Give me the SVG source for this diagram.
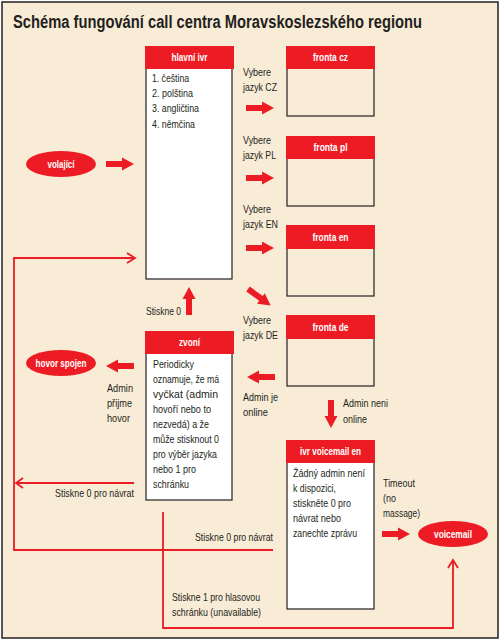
<svg xmlns="http://www.w3.org/2000/svg" width="501" height="641" viewBox="0 0 501 641">
<style>
.t{font-family:"Liberation Sans",Arial,sans-serif;font-size:11px;fill:#231F20}
.h{font-family:"Liberation Sans",Arial,sans-serif;font-size:11px;font-weight:bold;fill:#fff;text-anchor:middle}
.hdr{fill:#ED1C24}
.bw{fill:#fff;stroke:#231F20;stroke-width:1.2}
.bb{fill:none;stroke:#231F20;stroke-width:1.2}
.ln{fill:none;stroke:#ED1C24;stroke-width:1.8}
.ba{fill:#ED1C24}
</style>
<defs>
<path id="arr" d="M0,-3 H16 V-6.5 L28,0 L16,6.5 V3 H0 Z"/>
</defs>
<rect x="2" y="2" width="496" height="636" fill="#F9ECD7" stroke="#231F20" stroke-width="1.5"/>
<text x="13" y="28" font-family="Liberation Sans,Arial,sans-serif" font-size="17.5" font-weight="bold" fill="#231F20" textLength="409" lengthAdjust="spacingAndGlyphs">Schéma fungování call centra Moravskoslezského regionu</text>

<g id="hlavni-ivr">
<rect class="bw" x="146" y="68" width="86" height="211"/>
<rect class="hdr" x="145" y="46" width="89" height="23"/>
<text class="h" x="189.5" y="61" textLength="36" lengthAdjust="spacingAndGlyphs">hlavní ivr</text>
<text class="t" x="152" y="82" textLength="37" lengthAdjust="spacingAndGlyphs">1. čeština</text>
<text class="t" x="152" y="97" textLength="41" lengthAdjust="spacingAndGlyphs">2. polština</text>
<text class="t" x="152" y="112" textLength="47" lengthAdjust="spacingAndGlyphs">3. angličtina</text>
<text class="t" x="152" y="128" textLength="43" lengthAdjust="spacingAndGlyphs">4. němčina</text>
</g>

<g id="fronta-cz">
<rect class="bb" x="287" y="68" width="87" height="48"/>
<rect class="hdr" x="286" y="46" width="89" height="23"/>
<text class="h" x="330.5" y="61" textLength="35" lengthAdjust="spacingAndGlyphs">fronta cz</text>
</g>
<g id="fronta-pl">
<rect class="bb" x="287" y="158" width="87" height="48"/>
<rect class="hdr" x="286" y="136" width="89" height="23"/>
<text class="h" x="330.5" y="151" textLength="34" lengthAdjust="spacingAndGlyphs">fronta pl</text>
</g>
<g id="fronta-en">
<rect class="bb" x="287" y="248" width="87" height="48"/>
<rect class="hdr" x="286" y="225" width="89" height="24"/>
<text class="h" x="330.5" y="241" textLength="36" lengthAdjust="spacingAndGlyphs">fronta en</text>
</g>
<g id="fronta-de">
<rect class="bb" x="287" y="338" width="87" height="48"/>
<rect class="hdr" x="286" y="315" width="89" height="24"/>
<text class="h" x="330.5" y="331" textLength="36" lengthAdjust="spacingAndGlyphs">fronta de</text>
</g>

<g id="volajici">
<ellipse class="hdr" cx="61" cy="164" rx="35" ry="13"/>
<text class="h" x="61" y="168" textLength="27" lengthAdjust="spacingAndGlyphs">volající</text>
</g>

<g id="zvoni">
<rect class="bw" x="146" y="353" width="86" height="147"/>
<rect class="hdr" x="145" y="331" width="89" height="23"/>
<text class="h" x="189.5" y="346" textLength="21" lengthAdjust="spacingAndGlyphs">zvoní</text>
<text class="t" x="153" y="368" textLength="41" lengthAdjust="spacingAndGlyphs">Periodicky</text>
<text class="t" x="153" y="383" textLength="66" lengthAdjust="spacingAndGlyphs">oznamuje, že má</text>
<text class="t" x="153" y="398" textLength="65" lengthAdjust="spacingAndGlyphs">vyčkat (admin</text>
<text class="t" x="153" y="413" textLength="58" lengthAdjust="spacingAndGlyphs">hovoří nebo to</text>
<text class="t" x="153" y="428" textLength="56" lengthAdjust="spacingAndGlyphs">nezvedá) a že</text>
<text class="t" x="153" y="443" textLength="66" lengthAdjust="spacingAndGlyphs">může stisknout 0</text>
<text class="t" x="153" y="458" textLength="64" lengthAdjust="spacingAndGlyphs">pro výběr jazyka</text>
<text class="t" x="153" y="473" textLength="43" lengthAdjust="spacingAndGlyphs">nebo 1 pro</text>
<text class="t" x="153" y="488" textLength="36" lengthAdjust="spacingAndGlyphs">schránku</text>
</g>

<g id="hovor-spojen">
<ellipse class="hdr" cx="61" cy="363" rx="35" ry="13"/>
<text class="h" x="61" y="367" textLength="51" lengthAdjust="spacingAndGlyphs">hovor spojen</text>
</g>

<g id="ivr-voicemail-en">
<rect class="bw" x="287" y="462" width="87" height="147"/>
<rect class="hdr" x="286" y="440" width="89" height="23"/>
<text class="h" x="330.5" y="455" textLength="61" lengthAdjust="spacingAndGlyphs">ivr voicemail en</text>
<text class="t" x="293" y="477" textLength="72" lengthAdjust="spacingAndGlyphs">Žádný admin není</text>
<text class="t" x="293" y="492" textLength="43" lengthAdjust="spacingAndGlyphs">k dispozici,</text>
<text class="t" x="293" y="507" textLength="58" lengthAdjust="spacingAndGlyphs">stiskněte 0 pro</text>
<text class="t" x="293" y="522" textLength="48" lengthAdjust="spacingAndGlyphs">návrat nebo</text>
<text class="t" x="293" y="537" textLength="64" lengthAdjust="spacingAndGlyphs">zanechte zprávu</text>
</g>

<g id="voicemail">
<ellipse class="hdr" cx="453" cy="534" rx="35" ry="13"/>
<text class="h" x="453" y="538" textLength="38" lengthAdjust="spacingAndGlyphs">voicemail</text>
</g>

<g id="connectors">
<use href="#arr" class="ba" transform="translate(106,164)"/>
<use href="#arr" class="ba" transform="translate(246,108)"/>
<use href="#arr" class="ba" transform="translate(246,178)"/>
<use href="#arr" class="ba" transform="translate(246,248)"/>
<use href="#arr" class="ba" transform="translate(248,289) rotate(36)"/>
<use href="#arr" class="ba" transform="translate(189,315) rotate(-90)"/>
<use href="#arr" class="ba" transform="translate(134,366) rotate(180)"/>
<use href="#arr" class="ba" transform="translate(275,377) rotate(180)"/>
<use href="#arr" class="ba" transform="translate(331,400) rotate(90)"/>
<use href="#arr" class="ba" transform="translate(382,534)"/>

<polyline class="ln" points="14,483 14,550 273,550"/>
<polyline class="ln" points="14,483 14,258 134,258"/>
<polyline class="ln" points="127,253 135,258 127,263"/>
<line class="ln" x1="134" y1="483" x2="16" y2="483"/>
<polyline class="ln" points="23,478 16,483 23,488"/>
<polyline class="ln" points="163,512 163,628 453,628 453,561"/>
<polyline class="ln" points="448,568 453,560 458,568"/>

<text class="t" x="146" y="315" textLength="35" lengthAdjust="spacingAndGlyphs">Stiskne 0</text>
<text class="t" x="243" y="76" textLength="28" lengthAdjust="spacingAndGlyphs">Vybere</text>
<text class="t" x="243" y="91" textLength="34" lengthAdjust="spacingAndGlyphs">jazyk CZ</text>
<text class="t" x="243" y="144" textLength="28" lengthAdjust="spacingAndGlyphs">Vybere</text>
<text class="t" x="243" y="159" textLength="33" lengthAdjust="spacingAndGlyphs">jazyk PL</text>
<text class="t" x="243" y="213" textLength="28" lengthAdjust="spacingAndGlyphs">Vybere</text>
<text class="t" x="243" y="228" textLength="35" lengthAdjust="spacingAndGlyphs">jazyk EN</text>
<text class="t" x="243" y="324" textLength="28" lengthAdjust="spacingAndGlyphs">Vybere</text>
<text class="t" x="243" y="339" textLength="35" lengthAdjust="spacingAndGlyphs">jazyk DE</text>
<text class="t" x="107" y="392" textLength="26" lengthAdjust="spacingAndGlyphs">Admin</text>
<text class="t" x="107" y="407" textLength="25" lengthAdjust="spacingAndGlyphs">přijme</text>
<text class="t" x="107" y="422" textLength="23" lengthAdjust="spacingAndGlyphs">hovor</text>
<text class="t" x="243" y="401" textLength="35" lengthAdjust="spacingAndGlyphs">Admin je</text>
<text class="t" x="243" y="416" textLength="25" lengthAdjust="spacingAndGlyphs">online</text>
<text class="t" x="343" y="407" textLength="45" lengthAdjust="spacingAndGlyphs">Admin neni</text>
<text class="t" x="343" y="423" textLength="24" lengthAdjust="spacingAndGlyphs">online</text>
<text class="t" x="55" y="497" textLength="79" lengthAdjust="spacingAndGlyphs">Stiskne 0 pro návrat</text>
<text class="t" x="195" y="541" textLength="78" lengthAdjust="spacingAndGlyphs">Stiskne 0 pro návrat</text>
<text class="t" x="383" y="487" textLength="32" lengthAdjust="spacingAndGlyphs">Timeout</text>
<text class="t" x="383" y="502" textLength="13" lengthAdjust="spacingAndGlyphs">(no</text>
<text class="t" x="383" y="517" textLength="37" lengthAdjust="spacingAndGlyphs">massage)</text>
<text class="t" x="172" y="601" textLength="88" lengthAdjust="spacingAndGlyphs">Stiskne 1 pro hlasovou</text>
<text class="t" x="172" y="616" textLength="89" lengthAdjust="spacingAndGlyphs">schránku (unavailable)</text>
</g>
</svg>
